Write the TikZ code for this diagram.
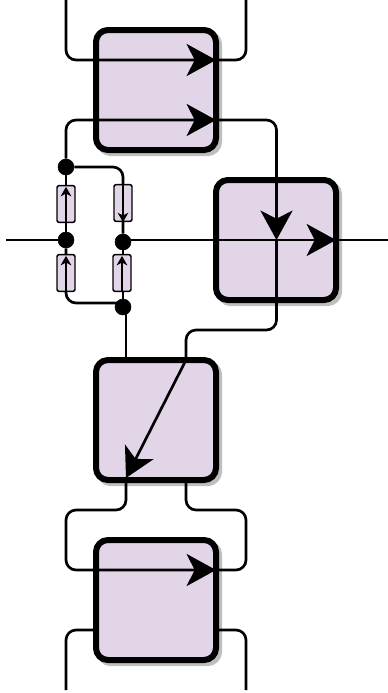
\documentclass[tikz,border=0pt]{standalone}
\usepackage{tikz}
\usetikzlibrary{arrows.meta,shadows}
\definecolor{lilac}{HTML}{E1D5E7}
\tikzset{
  blockbox/.style={rectangle, rounded corners=9pt, draw=black, fill=lilac, line width=4.5pt, minimum width=90pt, minimum height=90pt, inner sep=0pt, general shadow={fill=black!25, draw=black!25, line width=4.5pt, shadow xshift=2.4pt, shadow yshift=-2.4pt}},
  stubbox/.style={rectangle, rounded corners=1.5pt, draw=black, fill=lilac, line width=1.1pt, minimum width=13.5pt, minimum height=27.5pt, inner sep=0pt},
  dotnode/.style={circle, fill=black, draw=black, inner sep=0pt, minimum size=12pt},
  wire/.style={draw=black, line width=2pt, rounded corners=7.5pt},
  bigwire/.style={wire, -{Stealth[length=22pt, width=24pt, inset=6pt]}},
  thinwire/.style={draw=black, line width=0.8pt, -{Stealth[length=7pt, width=8pt, inset=2pt]}}
}
\begin{document}
\begin{tikzpicture}[x=0.75pt, y=-0.75pt]
\useasboundingbox (0,0) rectangle (388,693);

\node[blockbox] (blockA) at (156,90) {};
\node[blockbox] (blockB) at (276,240) {};
\node[blockbox] (blockC) at (156,420) {};
\node[blockbox] (blockD) at (156,600) {};

% free ends and entry points
\coordinate (topL) at (66,0);
\coordinate (topR) at (246,0);
\coordinate (entryA) at (216,60);
\coordinate (entryB) at (216,120);
\coordinate (entryC) at (276.5,240);
\coordinate (entryD) at (336,240);
\coordinate (entryE) at (126,478);
\coordinate (outE) at (186,480);
\coordinate (entryF) at (216,570);
\coordinate (leftIn) at (6,240);
\coordinate (rightOut) at (388,240);
\coordinate (lowL) at (96,630);
\coordinate (lowR) at (216,630);
\coordinate (endL) at (66,690);
\coordinate (endR) at (246,690);
\coordinate (feedC) at (126,360);
\coordinate (slantC) at (186,360);
\coordinate (joinC) at (123,240);
\coordinate (joinD) at (123,303);

\node[dotnode] (dotA) at (66,167) {};
\node[dotnode] (dotB) at (66,240) {};
\node[dotnode] (dotC) at (123,242) {};
\node[dotnode] (dotD) at (123,307) {};

% upper block
\draw[bigwire] (topL) |- (entryA);
\draw[wire] (topR) |- (entryA);
\draw[bigwire] (dotA) |- (entryB);
\draw[bigwire] (entryB) -| (entryC);

% right block
\draw[wire] (leftIn) -- (dotB);
\draw[bigwire] (joinC) -- (entryD);
\draw[wire] (entryD) -- (rightOut);
\draw[wire] (entryC) -- (276.5,330) -- (186,330) -- (slantC);
\draw[bigwire, rounded corners=0pt] (slantC) -- (entryE);

% stubs
\draw[wire] (dotA) -- (dotB);
\draw[wire] (dotB) |- (joinD);
\draw[wire] (dotA) -| (dotC);
\draw[wire] (dotC) -- (dotD);
\draw[wire, rounded corners=0pt] (feedC) |- (dotD);
\node[stubbox] (stubA) at (66,204) {};
\node[stubbox] (stubB) at (123,203) {};
\node[stubbox] (stubC) at (66,273) {};
\node[stubbox] (stubD) at (122,273) {};
\draw[thinwire] (stubA.south) -- ([yshift=-1.5pt]stubA.north);
\draw[thinwire] (stubB.north) -- (stubB.south);
\draw[thinwire] (stubC.south) -- ([yshift=-1.5pt]stubC.north);
\draw[thinwire] (stubD.south) -- ([yshift=-1.5pt]stubD.north);

% lower blocks
\draw[wire] (126,480) -- (126,510) -- (66,510) -- (66,570) -- (entryF);
\draw[bigwire, rounded corners=0pt] (150,570) -- (entryF);
\draw[wire] (outE) -- (186,510) -- (246,510) -- (246,570) -- (entryF);
\draw[wire] (lowL) -| (endL);
\draw[wire] (lowR) -| (endR);

\end{tikzpicture}
\end{document}
